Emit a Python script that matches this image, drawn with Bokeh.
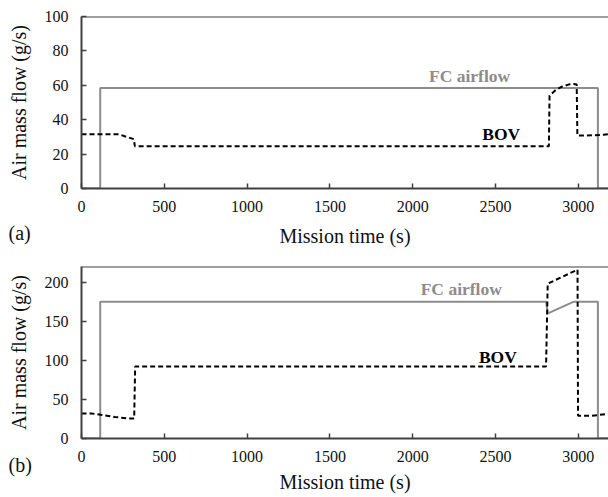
from bokeh.plotting import figure
from bokeh.models import Range1d, Span, FixedTicker, Title
from bokeh.layouts import column
from bokeh.core.properties import value
from bokeh.embed import file_html
from bokeh.resources import INLINE

# ---- data ----
x_ticks = [0, 500, 1000, 1500, 2000, 2500, 3000]
y_ticks_a = [0, 20, 40, 60, 80, 100]
y_ticks_b = [0, 50, 100, 150, 200]

fc_a_t = [0, 113, 113, 3118, 3118, 3200]
fc_a_v = [0, 0, 58.5, 58.5, 0, 0]
bov_a_t = [0, 225, 316, 322, 2822, 2826, 2860, 2900, 2940, 2971, 2990, 2994, 3050, 3150, 3200]
bov_a_v = [31.5, 31.5, 28.7, 24.6, 24.6, 53.9, 57.0, 59.2, 60.4, 60.8, 60.5, 30.8, 30.8, 31.2, 31.8]

fc_b_t = [0, 113, 113, 2805, 2816, 2973, 3118, 3118, 3200]
fc_b_v = [0, 0, 175, 175, 160, 175, 175, 0, 0]
bov_b_t = [0, 60, 115, 200, 280, 318, 324, 2805, 2815, 2995, 2998, 3078, 3200]
bov_b_v = [32, 32, 30.5, 27.5, 25.8, 25.5, 92, 92, 198, 216, 29, 29, 32]

FONT = "Liberation Serif"
FC_GRAY = "#8c8c8c"
AX = "#404040"
TXT = "#111111"


def make_panel(height, ymax, yticks, fc_t, fc_v, bov_t, bov_v,
               fc_lab, bov_lab, title_standoff, bottom, tag, tag_standoff):
    p = figure(width=608, height=height, output_backend="svg", toolbar_location=None,
               x_range=Range1d(0, 3182), y_range=Range1d(0, ymax),
               min_border_left=81, min_border_right=0, min_border_top=16,
               min_border_bottom=bottom)
    p.outline_line_color = None
    p.grid.visible = False
    p.background_fill_color = "white"
    p.border_fill_color = "white"

    p.line(fc_t, fc_v, line_color=FC_GRAY, line_width=2)
    p.line(bov_t, bov_v, line_color="black", line_width=2, line_dash="5 3")

    p.add_layout(Span(location=ymax, dimension="width", line_color=AX, line_width=2))

    for ax in (p.xaxis[0], p.yaxis[0]):
        ax.axis_line_color = AX
        ax.axis_line_width = 2
        ax.major_tick_line_color = AX
        ax.major_tick_line_width = 1.5
        ax.major_tick_in = 5
        ax.major_tick_out = 0
        ax.minor_tick_line_color = None
        ax.major_label_text_font = FONT
        ax.major_label_text_font_size = "16px"
        ax.major_label_text_color = TXT
        ax.axis_label_text_font = FONT
        ax.axis_label_text_font_size = "20px"
        ax.axis_label_text_font_style = "normal"
        ax.axis_label_text_color = TXT

    p.xaxis.ticker = FixedTicker(ticks=x_ticks)
    p.yaxis.ticker = FixedTicker(ticks=yticks)
    p.xaxis.axis_label = "Mission time (s)"
    p.yaxis.axis_label = "Air mass flow (g/s)"
    p.xaxis.major_label_standoff = 12
    p.xaxis.axis_label_standoff = title_standoff
    p.yaxis.major_label_standoff = 13
    p.yaxis.axis_label_standoff = 12

    p.text(x=[fc_lab[0]], y=[fc_lab[1]], text=["FC airflow"], text_color=FC_GRAY,
           text_font=value(FONT), text_font_size="17.5px",
           text_font_style="bold", text_align="center", text_baseline="middle")
    p.text(x=[bov_lab[0]], y=[bov_lab[1]], text=["BOV"], text_color="black",
           text_font=value(FONT), text_font_size="17.5px",
           text_font_style="bold", text_align="center", text_baseline="middle")

    # panel tag, drawn in the bottom side panel (not clipped to the frame)
    t = Title(text=tag, align="left", offset=-73, vertical_align="top",
              standoff=tag_standoff, text_font=FONT, text_font_size="20px",
              text_font_style="normal", text_color=TXT)
    p.add_layout(t, "below")
    return p


pa = make_panel(250, 100, y_ticks_a, fc_a_t, fc_a_v, bov_a_t, bov_a_v,
                (2343, 65.5), (2534, 31.7), 10, 62, "(a)", -55)
pb = make_panel(247, 220, y_ticks_b, fc_b_t, fc_b_v, bov_b_t, bov_b_v,
                (2293, 191.5), (2514, 104.7), 6, 59, "(b)", -84)

layout = column(pa, pb, spacing=0)
open("out.html", "w").write(file_html(layout, INLINE))
